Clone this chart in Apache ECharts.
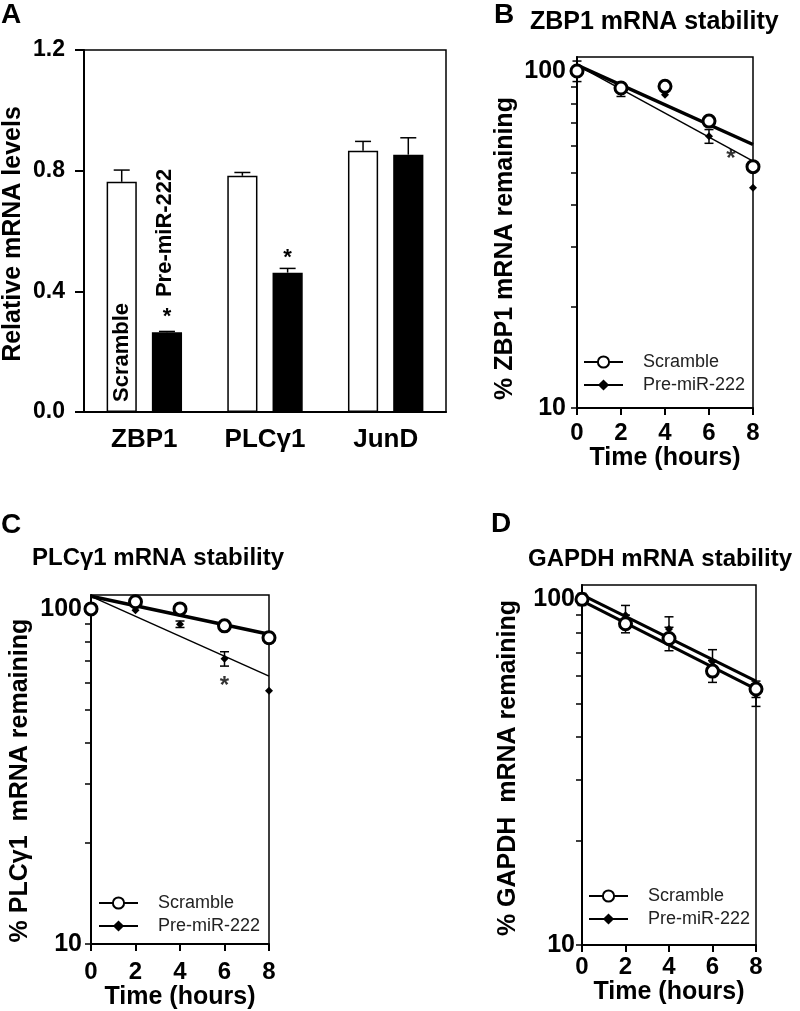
<!DOCTYPE html>
<html><head><meta charset="utf-8">
<script src="https://cdn.jsdelivr.net/npm/echarts@6/dist/echarts.min.js"></script>
<style>html,body{margin:0;padding:0;background:#fff}#chart{width:800px;height:1011px}</style>
</head><body><div id="chart"></div>
<script>
// ---------- Panel A data ----------
const genes = ['ZBP1', 'PLCγ1', 'JunD'];
const barScramble = [0.763, 0.783, 0.866];
const barScrambleErr = [0.039, 0.011, 0.031];
const barPre = [0.264, 0.462, 0.853];
const barPreErr = [0.003, 0.014, 0.056];
const barPreStar = ['*', '*', ''];
const yTicksA = [0, 0.4, 0.8, 1.2];

// ---------- Stability panels ----------
const hours = [0, 2, 4, 6, 8];
const fitHours = [0, 8];
const logTicks = [10, 20, 30, 40, 50, 60, 70, 80, 90, 100];
const logLabels = [10, 100];

const zbp1Scramble = [100, 89, 90, 71, 52];
const zbp1ScrambleErr = [3, 2, 0, 1, 0];
const zbp1Pre = [100, 88, 85, 64, 45];
const zbp1PreErr = [7, 4, 0, 3, 0];
const zbp1FitScramble = [104, 60.5];
const zbp1FitPre = [104, 54];
const zbp1Star = [[7, 57]];

const plcScramble = [100, 105, 100, 89, 82];
const plcScrambleErr = [0, 0, 0, 0, 3];
const plcPre = [100, 99, 90, 71, 57];
const plcPreErr = [0, 0, 2, 3.5, 0];
const plcFitScramble = [109, 84];
const plcFitPre = [109, 63];
const plcStar = [[6, 61]];

const gapdhScramble = [100, 85, 77, 62, 55];
const gapdhScrambleErr = [3, 5, 6, 4.5, 3];
const gapdhPre = [100, 90, 82, 66, 53];
const gapdhPreErr = [4, 6, 7, 5.5, 4];
const gapdhFitScramble = [99, 55];
const gapdhFitPre = [103, 58];
const gapdhStar = [];

const FONT = "'Liberation Sans', Arial, Helvetica, sans-serif";
const BLACK = '#000';

const chart = echarts.init(document.getElementById('chart'), null, {renderer: 'canvas'});

const grids = [
  {left: 83, top: 50, width: 363, height: 362},
  {left: 577, top: 57, width: 176, height: 351},
  {left: 91, top: 595, width: 178, height: 355},
  {left: 582, top: 585, width: 174, height: 360}
].map(g => Object.assign({show: true, borderColor: BLACK, borderWidth: 1.5, containLabel: false}, g));

function timeXAxis(gridIndex, margin, nameGap) {
  return {
    type: 'value', gridIndex, min: 0, max: 8, interval: 2,
    name: 'Time (hours)', nameLocation: 'middle', nameGap,
    nameTextStyle: {fontFamily: FONT, fontWeight: 'bold', fontSize: 25, color: BLACK},
    axisLine: {show: true, lineStyle: {color: BLACK, width: 2}},
    axisTick: {show: true, length: 7, lineStyle: {color: BLACK, width: 2}},
    axisLabel: {fontFamily: FONT, fontWeight: 'bold', fontSize: 24, color: BLACK, margin},
    splitLine: {show: false}
  };
}
function logYAxis(gridIndex, name, nameGap, margin, shift) {
  return {
    type: 'log', logBase: 10, gridIndex, min: 10, max: 110,
    name, nameLocation: 'middle', nameGap, nameRotate: 90,
    nameTextStyle: {fontFamily: FONT, fontWeight: 'bold', fontSize: 25, color: BLACK,
                    padding: [0, shift * 2, 0, 0]},
    axisLine: {show: true, lineStyle: {color: BLACK, width: 2}},
    axisTick: {show: true, length: 6, customValues: logTicks, lineStyle: {color: BLACK, width: 1.5}},
    axisLabel: {fontFamily: FONT, fontWeight: 'bold', fontSize: 25, color: BLACK, margin, customValues: logLabels},
    splitLine: {show: false}
  };
}

function errorSeries(xIdx, yIdx, xs, vals, errs, capW, lw) {
  const data = [];
  xs.forEach((x, i) => { if (errs[i] > 0) data.push([x, vals[i] - errs[i], vals[i] + errs[i]]); });
  return {
    type: 'custom', xAxisIndex: xIdx, yAxisIndex: yIdx, data, z: 3, silent: true,
    encode: {x: 0, y: [1, 2]},
    renderItem(params, api) {
      const lo = api.coord([api.value(0), api.value(1)]);
      const hi = api.coord([api.value(0), api.value(2)]);
      const st = {stroke: BLACK, lineWidth: lw};
      return {type: 'group', children: [
        {type: 'line', shape: {x1: lo[0], y1: lo[1], x2: hi[0], y2: hi[1]}, style: st},
        {type: 'line', shape: {x1: lo[0] - capW / 2, y1: lo[1], x2: lo[0] + capW / 2, y2: lo[1]}, style: st},
        {type: 'line', shape: {x1: hi[0] - capW / 2, y1: hi[1], x2: hi[0] + capW / 2, y2: hi[1]}, style: st}
      ]};
    }
  };
}

function barErrorSeries(vals, errs, off, capW) {
  return {
    type: 'custom', xAxisIndex: 0, yAxisIndex: 0, z: 3, silent: true,
    data: vals.map((v, i) => [i, v, v + errs[i]]),
    encode: {x: 0, y: [1, 2]},
    renderItem(params, api) {
      const band = api.size([1, 0])[0];
      const b = api.coord([api.value(0), api.value(1)]);
      const t = api.coord([api.value(0), api.value(2)]);
      const x = b[0] + off * band;
      const st = {stroke: BLACK, lineWidth: 1.5};
      return {type: 'group', children: [
        {type: 'line', shape: {x1: x, y1: b[1], x2: x, y2: t[1]}, style: st},
        {type: 'line', shape: {x1: x - capW / 2, y1: t[1], x2: x + capW / 2, y2: t[1]}, style: st}
      ]};
    }
  };
}

function stabilitySeries(idx, sc, scErr, pre, preErr, fitSc, fitPre, stars, scW, preW) {
  return [
    {name: 'Scramble', type: 'line', xAxisIndex: idx, yAxisIndex: idx,
     data: fitHours.map((h, i) => [h, fitSc[i]]), showSymbol: false,
     symbol: 'emptyCircle', symbolSize: 12,
     lineStyle: {color: BLACK, width: scW}, itemStyle: {color: BLACK}, z: 2},
    {name: 'Pre-miR-222', type: 'line', xAxisIndex: idx, yAxisIndex: idx,
     data: fitHours.map((h, i) => [h, fitPre[i]]), showSymbol: false,
     symbol: 'diamond', symbolSize: 8,
     lineStyle: {color: BLACK, width: preW}, itemStyle: {color: BLACK}, z: 2},
    errorSeries(idx, idx, hours, pre, preErr, 9, 1.5),
    errorSeries(idx, idx, hours, sc, scErr, 9, 1.5),
    {name: 'pre-pts', type: 'scatter', xAxisIndex: idx, yAxisIndex: idx,
     data: hours.map((h, i) => [h, pre[i]]), symbol: 'diamond', symbolSize: 8,
     itemStyle: {color: BLACK, opacity: 1}, z: 4},
    {name: 'scr-pts', type: 'scatter', xAxisIndex: idx, yAxisIndex: idx,
     data: hours.map((h, i) => [h, sc[i]]), symbol: 'circle', symbolSize: 12,
     itemStyle: {color: '#fff', borderColor: BLACK, borderWidth: 3, opacity: 1}, z: 5},
    {name: 'stars', type: 'scatter', xAxisIndex: idx, yAxisIndex: idx,
     data: stars, symbolSize: 0, silent: true, z: 6,
     label: {show: true, position: 'inside', offset: [0, 6], formatter: '*', fontFamily: FONT, fontWeight: 'bold',
             fontSize: 24, color: BLACK}}
  ];
}

function legendAt(left, top) {
  return {
    orient: 'vertical', left, top, selectedMode: false,
    data: ['Scramble', 'Pre-miR-222'],
    itemWidth: 39, itemHeight: 14, itemGap: 5,
    textStyle: {fontFamily: FONT, fontSize: 18, color: '#222', padding: [0, 0, 0, 15]}
  };
}

const titleStyle = {fontFamily: FONT, fontWeight: 'bold', fontSize: 25, color: BLACK};
const titleStyleSm = {fontFamily: FONT, fontWeight: 'bold', fontSize: 24, color: BLACK};
const letterStyle = {fontFamily: FONT, fontWeight: 'bold', fontSize: 28, color: BLACK};

const option = {
  animation: false,
  backgroundColor: '#fff',
  title: [
    {text: 'A', left: -4, top: -4, textStyle: letterStyle},
    {text: 'B', left: 489, top: -4, textStyle: letterStyle},
    {text: 'ZBP1 mRNA stability', left: 525, top: 5, textStyle: titleStyle},
    {text: 'C', left: -4, top: 506, textStyle: letterStyle},
    {text: 'PLCγ1 mRNA stability', left: 27, top: 541, textStyle: titleStyleSm},
    {text: 'D', left: 486, top: 505, textStyle: letterStyle},
    {text: 'GAPDH mRNA stability', left: 523, top: 542, textStyle: titleStyleSm}
  ],
  legend: [legendAt(578, 348), legendAt(93, 889), legendAt(583, 882)],
  grid: grids,
  xAxis: [
    {type: 'category', gridIndex: 0, data: genes, boundaryGap: true,
     axisLine: {lineStyle: {color: BLACK, width: 2}}, axisTick: {show: false},
     axisLabel: {fontFamily: FONT, fontWeight: 'bold', fontSize: 26, color: BLACK, margin: 15}},
    timeXAxis(1, 13, 30),
    timeXAxis(2, 16, 36),
    timeXAxis(3, 10, 31)
  ],
  yAxis: [
    {type: 'value', gridIndex: 0, min: yTicksA[0], max: yTicksA[yTicksA.length - 1], interval: 0.4,
     name: 'Relative mRNA levels', nameLocation: 'middle', nameGap: 58,
     nameTextStyle: {fontFamily: FONT, fontWeight: 'bold', fontSize: 25, color: BLACK, padding: [0, 6, 0, 0]},
     axisLine: {show: true, lineStyle: {color: BLACK, width: 2}},
     axisTick: {show: true, length: 9, lineStyle: {color: BLACK, width: 2}},
     axisLabel: {fontFamily: FONT, fontWeight: 'bold', fontSize: 23, color: BLACK, margin: 19,
                 formatter: v => v.toFixed(1)},
     splitLine: {show: false}},
    logYAxis(1, '% ZBP1 mRNA remaining', 59.5, 11, 16),
    logYAxis(2, '% PLCγ1  mRNA remaining', 58.5, 9, 11),
    logYAxis(3, '% GAPDH  mRNA remaining', 61.5, 7, 3)
  ],
  series: [
    {name: 'barScramble', type: 'bar', xAxisIndex: 0, yAxisIndex: 0, barWidth: '25%', barGap: '50%',
     itemStyle: {color: '#fff', borderColor: BLACK, borderWidth: 1.5},
     data: barScramble.map((v, i) => i === 0 ? {value: v, label: {
        show: true, position: 'insideBottom', rotate: 90, align: 'left', verticalAlign: 'middle',
        distance: 10, formatter: 'Scramble', fontFamily: FONT, fontWeight: 'bold', fontSize: 22, color: BLACK}} : v)},
    {name: 'barPre', type: 'bar', xAxisIndex: 0, yAxisIndex: 0, barWidth: '25%', barGap: '50%',
     itemStyle: {color: BLACK, borderColor: BLACK, borderWidth: 1.5},
     label: {show: true, position: 'top', distance: 4, fontFamily: FONT, fontWeight: 'bold', fontSize: 22, color: BLACK,
             formatter: p => barPreStar[p.dataIndex]},
     markPoint: {symbolSize: 0, silent: true, data: [{
        coord: [0, 0.381], value: 0,
        label: {show: true, position: 'inside', rotate: 90, align: 'left', verticalAlign: 'middle',
                offset: [0, -2], formatter: 'Pre-miR-222', fontFamily: FONT, fontWeight: 'bold', fontSize: 22, color: BLACK}}]},
     data: barPre},
    barErrorSeries(barScramble, barScrambleErr, -0.1875, 16),
    barErrorSeries(barPre, barPreErr, 0.1875, 16),
    ...stabilitySeries(1, zbp1Scramble, zbp1ScrambleErr, zbp1Pre, zbp1PreErr, zbp1FitScramble, zbp1FitPre, zbp1Star, 3.5, 1.5),
    ...stabilitySeries(2, plcScramble, plcScrambleErr, plcPre, plcPreErr, plcFitScramble, plcFitPre, plcStar, 3.5, 1.5),
    ...stabilitySeries(3, gapdhScramble, gapdhScrambleErr, gapdhPre, gapdhPreErr, gapdhFitScramble, gapdhFitPre, gapdhStar, 3, 3)
  ]
};
chart.setOption(option);
</script>
</body></html>
